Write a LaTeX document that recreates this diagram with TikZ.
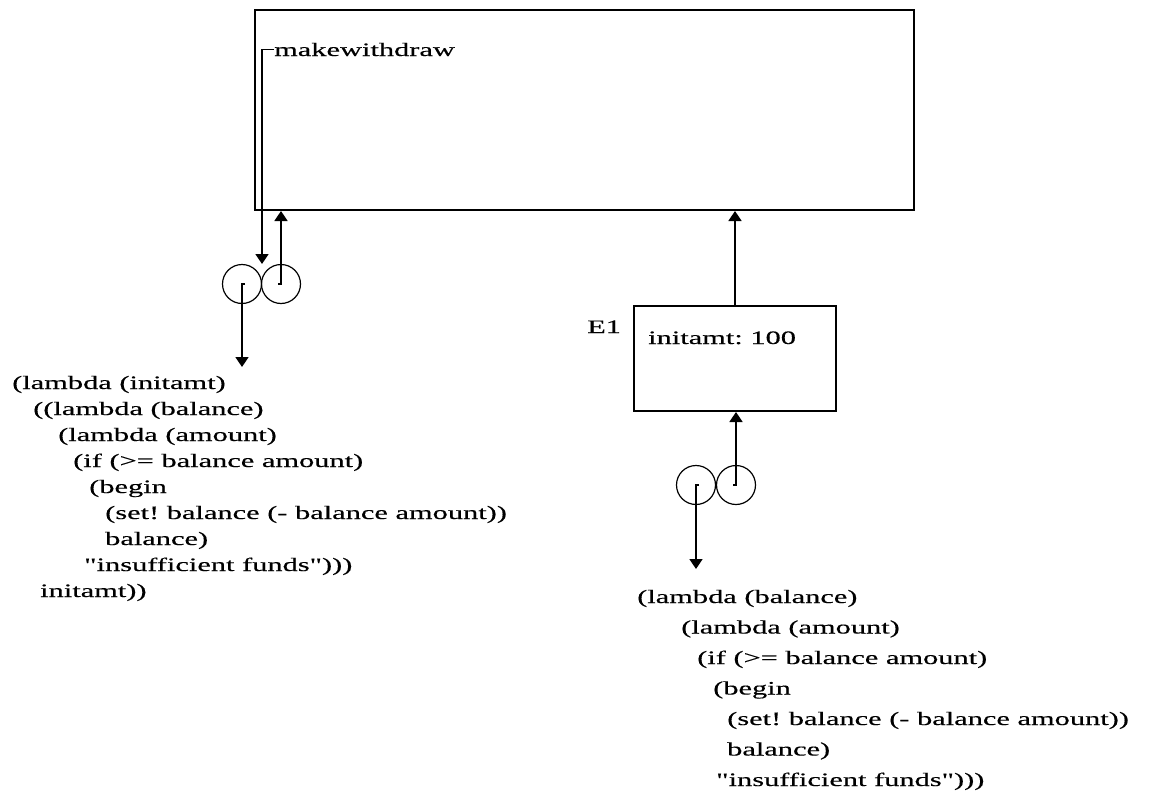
\documentclass[tikz,border=0pt]{standalone}
\usepackage{fontspec}
\setmainfont{Liberation Serif}[FakeStretch=1.6, FakeBold=0.4, Ligatures=TeXOff]
\usetikzlibrary{arrows.meta}
\frenchspacing
\begin{document}
\begin{tikzpicture}[x=1pt,y=-1pt,
  frame/.style={draw, line width=2pt, inner sep=0pt, anchor=north west},
  cell/.style={circle, draw, line width=1.2pt, minimum size=39pt, inner sep=0pt},
  ptr/.style={line width=1.8pt, -{Triangle[width=13pt,length=10pt]}},
  code/.style={anchor=base west, inner sep=0pt, font=\fontsize{19}{19}\selectfont},
]
\useasboundingbox (0,0) rectangle (1151,795);

% global environment
\node[frame, minimum width=659pt, minimum height=200pt] (global) at (254,9) {};
\node[code] (mw) at (274,56) {makewithdraw};

% frame E1
\node[frame, minimum width=202pt, minimum height=105pt] (e1) at (633,305) {};
\node[code] (e1name) at (587,333) {E1};
\node[code] (initamt) at (648,344) {initamt: 100};
\draw[ptr] (e1.north) -- (e1.north |- global.south);

% procedure object for makewithdraw
\node[cell] (mkcode) at (242,284) {};
\node[cell] (mkenv) at (281,284) {};
\coordinate (mktip) at (262,264);
\coordinate (mkbody) at (242,367);
\draw[ptr] (mw.west) -| (mktip);
\draw[ptr] ([xshift=-3pt]mkenv.center) -- (mkenv.center) -- (mkenv.center |- global.south);
\draw[ptr] ([xshift=3pt]mkcode.center) -- (mkcode.center) -- (mkbody);

% body of makewithdraw
\node[code] (l1) at (12,389)  {(lambda (initamt)};
\node[code] (l2) at (33,415)  {((lambda (balance)};
\node[code] (l3) at (58,441)  {(lambda (amount)};
\node[code] (l4) at (73,467)  {(if (>= balance amount)};
\node[code] (l5) at (89,493)  {(begin};
\node[code] (l6) at (105,519)  {(set! balance (- balance amount))};
\node[code] (l7) at (105,545)  {balance)};
\node[code] (l8) at (84,571)  {"insufficient funds")))};
\node[code] (l9) at (40,597)  {initamt))};

% procedure object created in E1
\node[cell] (wcode) at (696,485) {};
\node[cell] (wenv) at (736,485) {};
\coordinate (wbody) at (696,569);
\draw[ptr] ([xshift=-3pt]wenv.center) -- (wenv.center) -- (wenv.center |- e1.south);
\draw[ptr] ([xshift=3pt]wcode.center) -- (wcode.center) -- (wbody);

% body of the inner procedure
\node[code] (r1) at (637,603)  {(lambda (balance)};
\node[code] (r2) at (681,633.5)  {(lambda (amount)};
\node[code] (r3) at (697,664)  {(if (>= balance amount)};
\node[code] (r4) at (713,694.5)  {(begin};
\node[code] (r5) at (727,725)  {(set! balance (- balance amount))};
\node[code] (r6) at (727,755.5)  {balance)};
\node[code] (r7) at (716,786)  {"insufficient funds")))};
\end{tikzpicture}
\end{document}
